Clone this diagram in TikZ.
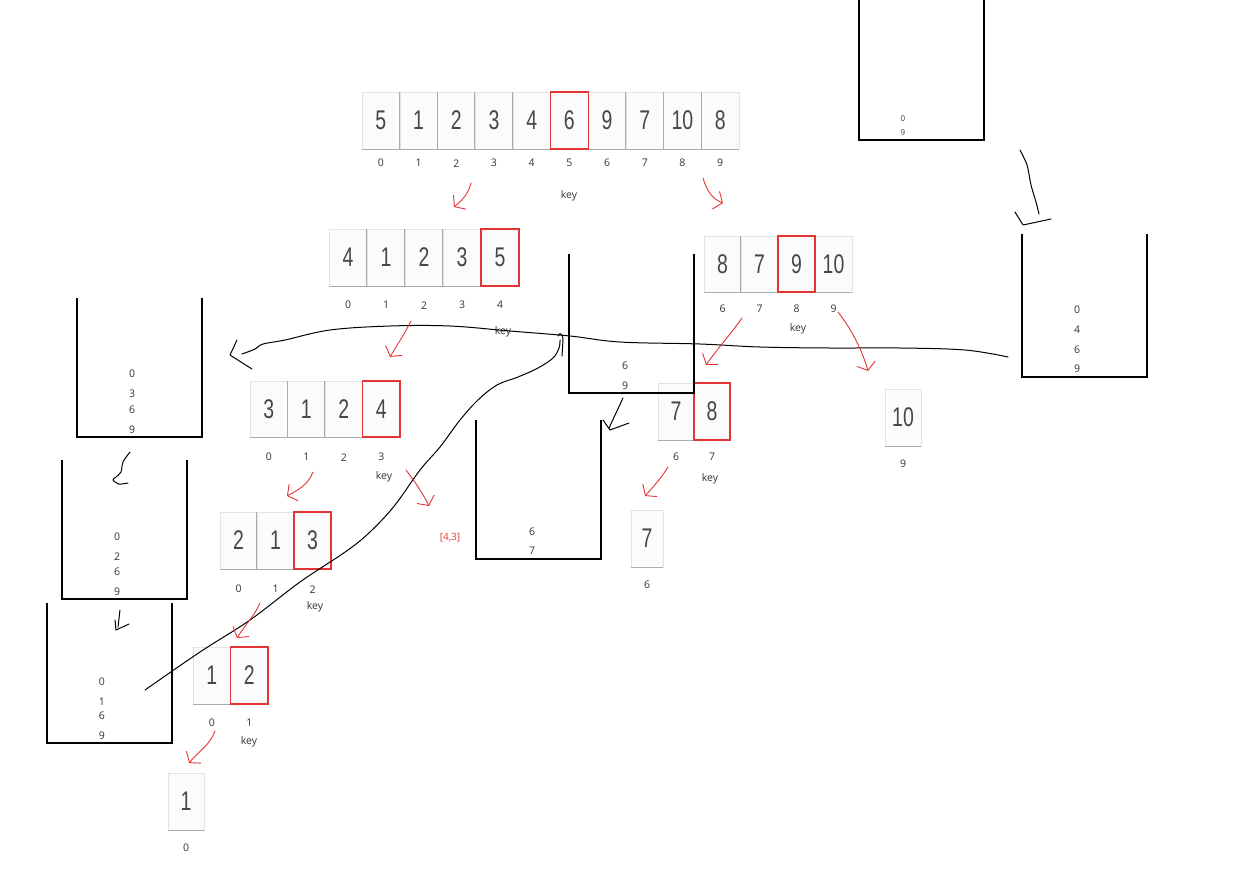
\documentclass[tikz,border=0pt]{standalone}
\usepackage{fontspec}
\setmainfont{Open Sans}
\newfontfamily\handfont{Liberation Sans}[FakeStretch=0.72]
\usetikzlibrary{arrows.meta}
\definecolor{penred}{RGB}{228,52,52}
\newcommand\drawrow[9]{% name, x0, ytop, w, h, values, last, labels, offset
  \foreach \v [count=\i from 0] in {#6} {
    \node[cellbox, minimum width=#4pt, minimum height=#5pt] (#1-\i) at ({#2+(\i+0.5)*#4},{#3+#5/2}) {\v};
  }
  \draw[divline] (#1-0.south west) -- (#1-#7.south east);
  \foreach \i in {1,...,#7} {\draw[divline] (#1-\i.north west) -- (#1-\i.south west);}
  \foreach \t [count=\i from 0] in {#8} {
    \node[idx] (#1-l\i) at ([yshift=-#9pt]#1-\i.south) {\t};
  }
}
\newcommand\onecell[7]{% name, x0, ytop, w, h, value, label
  \node[cellbox, minimum width=#4pt, minimum height=#5pt] (#1-0) at ({#2+#4/2},{#3+#5/2}) {#6};
  \draw[divline] (#1-0.south west) -- (#1-0.south east);
  \node[idx] (#1-l0) at ([yshift=-18pt]#1-0.south) {#7};
}
\newcommand\bucket[5]{% name, x1, ytop, x2, ybot
  \draw[bucketline] (#2,#3) -- (#2,#5) -- (#4,#5) -- (#4,#3);
  \coordinate (#1) at ({(#2+#4)/2},#5);
}
\begin{document}
\begin{tikzpicture}[x=1pt,y=-1pt,
  cellbox/.style={draw=gray!22, fill=gray!3, inner sep=0pt, font=\handfont\fontsize{27}{27}\selectfont, text=black!72},
  idx/.style={font=\fontsize{10.5}{11}\selectfont, text=black!80, inner sep=0pt},
  divline/.style={draw=gray!65, line width=1pt},
  redbox/.style={draw=penred, line width=1.6pt},
  bucketline/.style={draw=black, line width=1.3pt},
  bnum/.style={font=\fontsize{10.5}{11}\selectfont, text=black!80, inner sep=0pt},
  smallnum/.style={font=\fontsize{8}{9}\selectfont, text=black!80, inner sep=0pt},
  redlbl/.style={font=\fontsize{10}{11}\selectfont, text=penred, inner sep=0pt},
  redarrow/.style={draw=penred, line width=0.9pt, line cap=round, -{Straight Barb[length=7pt,width=19pt]}},
  blackstroke/.style={draw=black, line width=1pt, line cap=round, line join=round},
]
\useasboundingbox (0,0) rectangle (1247,879);

% arrays
\drawrow{A}{362}{92}{37.7}{57}{5,1,2,3,4,6,9,7,10,8}{9}{0,1,2,3,4,5,6,7,8,9}{14}
\draw[redbox] (A-5.north west) rectangle (A-5.south east);
\node[idx] (Akey) at (569,196) {key};

\drawrow{B}{329}{229}{38}{57}{4,1,2,3,5}{4}{0,1,2,3,4}{19}
\draw[redbox] (B-4.north west) rectangle (B-4.south east);
\node[idx] (Bkey) at (503,332) {key};

\drawrow{C}{704}{236}{37}{56}{8,7,9,10}{3}{6,7,8,9}{17}
\draw[redbox] (C-2.north west) rectangle (C-2.south east);
\node[idx] (Ckey) at (798,329) {key};

\drawrow{D}{250}{381}{37.5}{56}{3,1,2,4}{3}{0,1,2,3}{20}
\draw[redbox] (D-3.north west) rectangle (D-3.south east);
\node[idx] (Dkey) at (384,477) {key};

\drawrow{E}{220}{512}{37}{57}{2,1,3}{2}{0,1,2}{20}
\draw[redbox] (E-2.north west) rectangle (E-2.south east);
\node[idx] (Ekey) at (315,607) {key};

\drawrow{F}{193}{647}{37.5}{57}{1,2}{1}{0,1}{19}
\draw[redbox] (F-1.north west) rectangle (F-1.south east);
\node[idx] (Fkey) at (249,742) {key};

\drawrow{H}{658}{383}{36}{57}{7,8}{1}{6,7}{17}
\draw[redbox] (H-1.north west) rectangle (H-1.south east);
\node[idx] (Hkey) at (710,479) {key};

\onecell{G}{168}{773}{36}{57}{1}{0}
\onecell{I}{631}{510}{32}{57}{7}{6}
\onecell{J}{885}{389}{36}{57}{10}{9}

\node[redlbl] (res) at (450,538) {[4,3]};

% buckets
\bucket{b1}{859}{-2}{984}{140}
\node[smallnum] (b1a) at (903,119) {0};
\node[smallnum] (b1b) at (903,133) {9};

\bucket{b2}{1022}{234}{1147}{377}
\foreach \t/\y [count=\k] in {0/310,4/330,6/350,9/369} \node[bnum] (b2n\k) at (1077,\y) {\t};

\bucket{b3}{569}{254}{694}{393}
\foreach \t/\y [count=\k] in {6/366,9/386} \node[bnum] (b3n\k) at (625,\y) {\t};

\bucket{b4}{476}{420}{601}{559}
\foreach \t/\y [count=\k] in {6/532,7/551} \node[bnum] (b4n\k) at (532,\y) {\t};

\bucket{b5}{77}{298}{202}{437}
\foreach \t/\y [count=\k] in {0/374,3/394,6/410,9/430} \node[bnum] (b5n\k) at (132,\y) {\t};

\bucket{b6}{62}{460}{187}{599}
\foreach \t/\y [count=\k] in {0/537,2/557,6/572,9/592} \node[bnum] (b6n\k) at (117,\y) {\t};

\bucket{b7}{47}{603}{172}{743}
\foreach \t/\y [count=\k] in {0/682,1/702,6/716,9/736} \node[bnum] (b7n\k) at (102,\y) {\t};

% black hand-drawn strokes
\coordinate (c1s) at (1008,357);
\coordinate (c1e) at (242,354);
\draw[blackstroke] plot[smooth, tension=0.6] coordinates {(c1s) (965,350) (900,348) (830,348) (760,347) (700,344) (620,342) (570,336) (510,331) (450,326) (390,326) (330,330) (285,340) (263,344) (255,349) (c1e)};
\draw[blackstroke] (237,340) -- (230,355) -- (252,369);

\coordinate (c2s) at (145,690);
\coordinate (c2e) at (560,340);
\draw[blackstroke] plot[smooth, tension=0.6] coordinates {(c2s) (200,652) (250,620) (300,582) (348,550) (372,530) (395,505) (420,470) (440,447) (460,420) (478,400) (497,385) (518,377) (538,368) (553,358) (559,348) (c2e)};
\draw[blackstroke] (558,336) .. controls (559,332) and (563,333) .. (563,340) -- (562,356);

\coordinate (c3s) at (623,398);
\coordinate (c3e) at (609,428);
\draw[blackstroke] (c3s) -- (c3e);
\draw[blackstroke] (603,420) -- (610,430) -- (629,423);

\coordinate (c4s) at (1020,150);
\coordinate (c4e) at (1039,214);
\draw[blackstroke] plot[smooth] coordinates {(c4s) (1027,165) (1031,185) (1036,202) (c4e)};
\draw[blackstroke] (1015,212) -- (1023,225) -- (1051,219);

\coordinate (c5s) at (130,452);
\draw[blackstroke] plot[smooth] coordinates {(c5s) (123,462) (121,472) (116,477) (113,480) (119,484) (128,483)};

\coordinate (c6s) at (120,610);
\coordinate (c6e) at (118,627);
\draw[blackstroke] (c6s) -- (c6e);
\draw[blackstroke] (115,620) -- (116,630) -- (129,624);

% red arrows
\draw[redarrow] (471,183) .. controls (468,195) and (462,200) .. (454,207);
\draw[redarrow] (703,178) .. controls (707,192) and (713,199) .. (723,203);
\draw[redarrow] (411,321) .. controls (404,335) and (397,345) .. (390,357);
\draw[redarrow] (742,318) .. controls (730,335) and (718,348) .. (706,365);
\draw[redarrow] (838,312) .. controls (852,330) and (862,350) .. (868,371);
\draw[redarrow] (313,472) .. controls (308,485) and (298,490) .. (287,496);
\draw[redarrow] (406,470) .. controls (415,482) and (422,492) .. (429,506);
\draw[redarrow] (260,603) .. controls (255,615) and (245,625) .. (237,638);
\draw[redarrow] (215,731) .. controls (210,745) and (198,752) .. (189,763);
\draw[redarrow] (668,467) .. controls (660,480) and (652,488) .. (645,496);
\end{tikzpicture}
\end{document}
